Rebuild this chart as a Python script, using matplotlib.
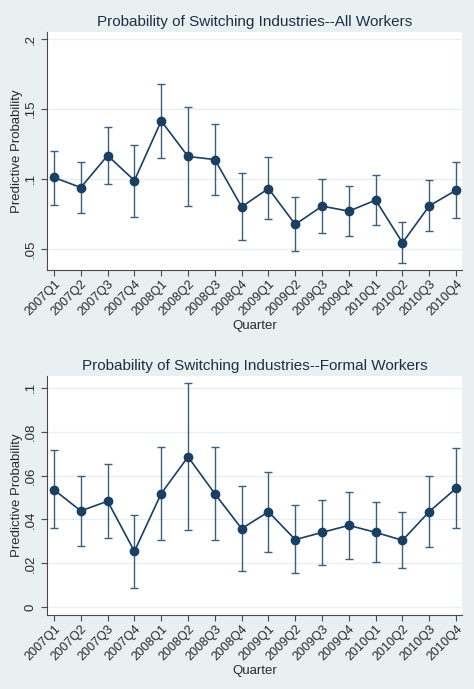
import matplotlib
matplotlib.use("Agg")
import matplotlib.pyplot as plt
import numpy as np

quarters = ["2007Q1", "2007Q2", "2007Q3", "2007Q4",
            "2008Q1", "2008Q2", "2008Q3", "2008Q4",
            "2009Q1", "2009Q2", "2009Q3", "2009Q4",
            "2010Q1", "2010Q2", "2010Q3", "2010Q4"]

# All workers: point estimate and confidence bounds
all_prob = [0.101, 0.0938, 0.1167, 0.0988, 0.1414, 0.116, 0.1138, 0.080,
            0.0931, 0.0674, 0.0805, 0.0769, 0.0848, 0.0543, 0.0807, 0.0919]
all_hi = [0.120, 0.1121, 0.1369, 0.1245, 0.1679, 0.1514, 0.1393, 0.1045,
          0.1157, 0.0869, 0.100, 0.0952, 0.1026, 0.069, 0.0995, 0.1119]
all_lo = [0.0814, 0.0757, 0.0964, 0.0729, 0.1152, 0.0805, 0.0888, 0.056,
          0.0712, 0.0483, 0.0612, 0.059, 0.0671, 0.0395, 0.0626, 0.0721]

# Formal workers
formal_prob = [0.0535, 0.0439, 0.0483, 0.0255, 0.0518, 0.0685, 0.0517, 0.0358,
               0.0435, 0.0308, 0.0341, 0.0373, 0.0341, 0.0305, 0.0436, 0.0542]
formal_hi = [0.0715, 0.0598, 0.0653, 0.0421, 0.0729, 0.102, 0.0729, 0.055,
             0.0617, 0.0465, 0.0488, 0.0527, 0.0479, 0.0432, 0.0598, 0.0724]
formal_lo = [0.0361, 0.028, 0.0315, 0.0089, 0.0308, 0.035, 0.0306, 0.0167,
             0.0253, 0.0155, 0.0192, 0.022, 0.0205, 0.0177, 0.0276, 0.0362]

bg = "#e9f0f1"
navy = "#1a3f62"
bar_col = "#3c5f7f"
text_col = "#1e2f45"
tick_col = "#2a2a2a"

plt.rcParams['font.family'] = ['Liberation Sans', 'DejaVu Sans']

fig = plt.figure(figsize=(4.74, 6.89), dpi=100, facecolor=bg)


def draw(pos, prob, lo, hi, title, yticks, ylabels, ylim):
    ax = fig.add_axes(pos)
    ax.set_facecolor("white")
    x = np.arange(len(quarters))
    p = np.array(prob)
    ax.errorbar(x, p, yerr=[p - np.array(lo), np.array(hi) - p], fmt="none",
                ecolor=bar_col, elinewidth=1.0, capsize=3, capthick=1.0, zorder=2)
    ax.plot(x, p, color=navy, lw=1.2, marker="o", ms=6, zorder=3)
    ax.set_xlim(-0.26, len(quarters) - 0.78)
    ax.set_ylim(*ylim)
    ax.set_yticks(yticks)
    ax.set_yticklabels(ylabels, rotation=90, va="center", fontsize=9.5, color=tick_col)
    ax.set_xticks(x)
    ax.set_xticklabels(quarters, rotation=45, ha="right", rotation_mode="anchor",
                       fontsize=9, color=tick_col)
    ax.tick_params(axis="x", pad=2)
    ax.grid(axis="y", color="#e6eef0", lw=0.9)
    ax.set_axisbelow(True)
    for s in ["top", "right"]:
        ax.spines[s].set_visible(False)
    for s in ["left", "bottom"]:
        ax.spines[s].set_color("#4a4a4a")
        ax.spines[s].set_linewidth(0.8)
    ax.tick_params(color="#4a4a4a", length=4, width=0.8)
    ax.set_xlabel("Quarter", fontsize=9.5, color=tick_col, labelpad=1)
    ax.set_ylabel("Predictive Probability", fontsize=9.5, color=tick_col, labelpad=1)
    ax.set_title(title, fontsize=11, color=text_col, pad=4)
    return ax


draw([0.0992, 0.6081, 0.8755, 0.3454], all_prob, all_lo, all_hi,
     "Probability of Switching Industries--All Workers",
     [0.05, 0.1, 0.15, 0.2], [".05", ".1", ".15", ".2"], (0.0348, 0.205))
draw([0.0992, 0.1074, 0.8755, 0.3469], formal_prob, formal_lo, formal_hi,
     "Probability of Switching Industries--Formal Workers",
     [0, 0.02, 0.04, 0.06, 0.08, 0.1], ["0", ".02", ".04", ".06", ".08", ".1"],
     (-0.0035, 0.1053))

fig.savefig("out.png", dpi=100, facecolor=bg)
